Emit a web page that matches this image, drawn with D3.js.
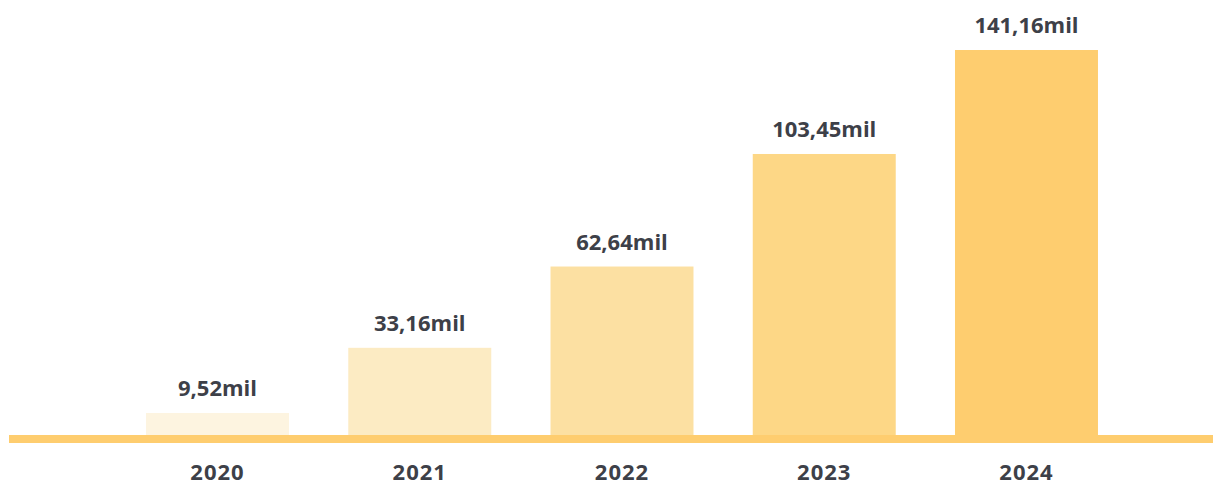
<!DOCTYPE html>
<html>
<head>
<meta charset="utf-8">
<script src="https://cdn.jsdelivr.net/npm/d3@7"></script>
<style>
  html, body { margin: 0; padding: 0; background: #fff; }
  svg text { font-family: "Open Sans", Inter, sans-serif; font-weight: 700; fill: #3d4048; }
</style>
</head>
<body>
<svg id="chart" width="1213" height="487"></svg>
<script>
var years = ["2020", "2021", "2022", "2023", "2024"];
var values = [9.52, 33.16, 62.64, 103.45, 141.16];
var valueLabels = ["9,52mil", "33,16mil", "62,64mil", "103,45mil", "141,16mil"];
var barColors = ["#fdf4e0", "#fcebc3", "#fce0a2", "#fdd786", "#fecd6f"];

var svg = d3.select("#chart");
var baseY = 435;

// x band scale
var x = d3.scaleBand()
          .domain(years)
          .range([116.4, 1127.6])
          .paddingInner(0.293)
          .paddingOuter(0.1465);

// y scale
var y = d3.scaleLinear()
          .domain([1.54, d3.max(values)])
          .range([baseY, 50]);

var data = years.map(function(d, i) {
  return {year: d, value: values[i], label: valueLabels[i], color: barColors[i]};
});

// bars
svg.selectAll(".bar")
    .data(data)
  .enter().append("rect")
    .attr("class", "bar")
    .attr("x", function(d) { return x(d.year); })
    .attr("width", x.bandwidth())
    .attr("y", function(d) { return y(d.value); })
    .attr("height", function(d) { return baseY - y(d.value); })
    .attr("fill", function(d) { return d.color; });

// value labels
svg.selectAll(".val")
    .data(data)
  .enter().append("text")
    .attr("class", "val")
    .attr("x", function(d) { return x(d.year) + x.bandwidth() / 2; })
    .attr("y", function(d) { return y(d.value) - 17; })
    .attr("text-anchor", "middle")
    .style("font-size", "22px")
    .text(function(d) { return d.label; });

// baseline
svg.append("rect")
    .attr("x", 9)
    .attr("y", baseY)
    .attr("width", 1213 - 9)
    .attr("height", 8)
    .attr("fill", "#fecd6f");

// x axis labels
var xAxis = svg.append("g")
    .attr("transform", "translate(0," + baseY + ")")
    .call(d3.axisBottom(x).tickSize(0).tickPadding(0));
xAxis.select(".domain").remove();
xAxis.selectAll("text")
    .attr("dy", null)
    .attr("y", 45)
    .style("font-size", "22px")
    .style("letter-spacing", "1px")
    .style("font-family", "'Open Sans', Inter, sans-serif")
    .style("font-weight", "700")
    .attr("fill", "#3d4048");
</script>
</body>
</html>
